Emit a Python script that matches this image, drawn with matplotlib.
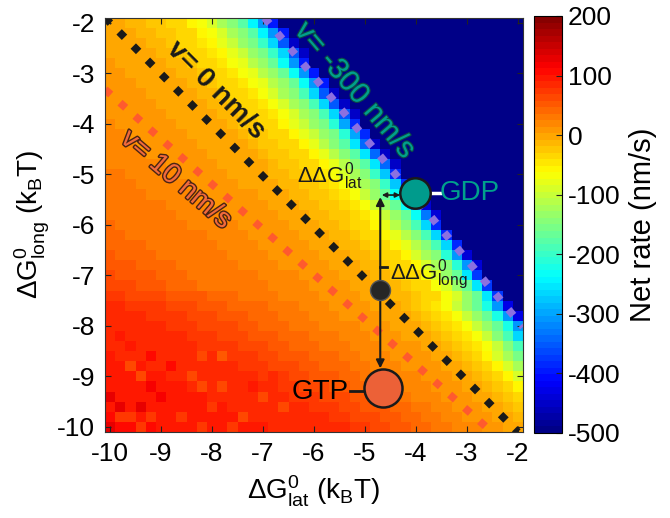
import numpy as np
import matplotlib
matplotlib.use("Agg")
import matplotlib.pyplot as plt
from matplotlib.colors import ListedColormap
import matplotlib.patheffects as pe

plt.rcParams['font.family'] = ['Liberation Sans', 'DejaVu Sans']
plt.rcParams['mathtext.fontset'] = 'custom'
plt.rcParams['mathtext.rm'] = 'Liberation Sans'
plt.rcParams['mathtext.it'] = 'Liberation Sans:italic'
plt.rcParams['mathtext.bf'] = 'Liberation Sans:bold'
plt.rcParams['axes.unicode_minus'] = False

# ---------------- data ----------------
DG_LAT = np.linspace(-10, -2, 41)     # x grid (k_B T)
DG_LONG = np.linspace(-2, -10, 41)    # y grid, row 0 = -2 (top)
X_TICKS = [-10, -9, -8, -7, -6, -5, -4, -3, -2]
Y_TICKS = [-10, -9, -8, -7, -6, -5, -4, -3, -2]
CBAR_TICKS = [-500, -400, -300, -200, -100, 0, 100, 200]
RATE_MIN, RATE_MAX = -500, 200
SATURATED_TENS = -50   # cells not listed in a row are saturated (<= -500 nm/s)

# net rate in units of 10 nm/s, one string per row (dG_long = -2 ... -10)
RATE_TENS_ROWS = [
    "0 0 -1 -1 -2 -2 -3 -4 -6 -7 -9 -12 -14 -18 -24 -31 -40",
    "0 0 0 -1 -1 -2 -2 -3 -4 -6 -7 -9 -12 -14 -18 -24 -31 -40",
    "0 0 0 0 -1 -1 -2 -3 -3 -5 -6 -8 -10 -13 -16 -20 -27 -35 -45",
    "0 0 0 0 0 -1 -1 -2 -3 -3 -5 -6 -8 -10 -13 -16 -20 -27 -35 -45",
    "1 0 0 0 0 0 -1 -1 -2 -3 -4 -5 -7 -8 -11 -13 -17 -23 -31 -40",
    "1 1 0 0 0 0 0 -1 -1 -2 -3 -4 -5 -7 -8 -11 -13 -17 -23 -31 -40",
    "1 1 1 0 0 0 0 0 -1 -1 -2 -3 -4 -5 -7 -8 -11 -13 -17 -23 -31 -40",
    "1 1 1 1 0 0 0 0 0 -1 -1 -2 -3 -4 -5 -7 -9 -12 -15 -19 -26 -35 -45",
    "1 1 1 1 1 0 0 0 0 0 -1 -1 -2 -3 -4 -5 -7 -9 -12 -15 -19 -26 -35 -45",
    "1 1 1 1 1 1 0 0 0 0 0 -1 -1 -2 -3 -4 -5 -7 -9 -12 -15 -19 -26 -35 -45",
    "2 1 1 1 1 1 1 0 0 0 0 0 -1 -2 -2 -3 -4 -6 -8 -10 -13 -16 -21 -30 -39",
    "2 2 1 1 1 1 1 1 0 0 0 0 0 -1 -2 -2 -3 -4 -6 -8 -10 -13 -16 -21 -30 -39",
    "2 2 2 1 1 1 1 1 1 0 0 0 0 0 -1 -2 -2 -3 -4 -6 -8 -11 -14 -18 -25 -34 -45",
    "2 2 2 2 1 1 1 1 1 1 0 0 0 0 0 -1 -2 -2 -3 -4 -6 -8 -11 -14 -18 -25 -34 -45",
    "2 2 2 2 2 2 1 1 1 1 1 0 0 0 0 0 -1 -2 -2 -3 -4 -6 -8 -11 -14 -18 -25 -34 -45",
    "3 3 2 2 2 2 2 1 1 1 1 1 0 0 0 0 -1 -1 -2 -2 -3 -5 -7 -9 -12 -15 -20 -28 -39",
    "3 3 3 2 2 2 2 2 1 1 1 1 1 0 0 0 0 -1 -1 -2 -2 -3 -5 -7 -9 -12 -15 -20 -28 -39",
    "3 3 3 3 2 2 2 2 2 1 1 1 1 1 1 0 0 0 -1 -1 -2 -2 -4 -5 -7 -10 -13 -17 -23 -33 -44",
    "3 3 3 3 3 3 2 2 2 2 1 1 1 1 1 1 0 0 0 -1 -1 -2 -2 -4 -5 -7 -10 -13 -17 -23 -33 -44",
    "3 3 3 3 3 3 3 2 2 2 2 2 1 1 1 1 1 0 0 0 -1 -1 -2 -2 -4 -5 -7 -10 -13 -17 -23 -33 -44",
    "4 3 3 3 3 3 3 3 2 2 2 2 2 1 1 1 1 1 0 0 0 -1 -1 -2 -3 -4 -6 -8 -11 -14 -19 -27 -38",
    "4 4 3 3 3 3 3 3 3 3 2 2 2 2 1 1 1 1 1 0 0 0 -1 -1 -2 -3 -4 -6 -8 -11 -14 -19 -27 -38",
    "4 4 4 4 3 3 3 3 3 3 3 2 2 2 2 1 1 1 1 1 0 0 0 -1 -1 -2 -3 -4 -6 -8 -11 -14 -19 -27 -38",
    "5 4 4 4 4 3 3 3 3 3 3 3 2 2 2 2 1 1 1 1 1 0 0 0 -1 -1 -2 -3 -4 -6 -9 -12 -15 -21 -31 -44",
    "5 5 5 4 4 4 4 3 3 3 3 3 3 2 2 2 2 1 1 1 1 1 0 0 0 -1 -1 -2 -3 -4 -6 -9 -12 -15 -21 -31 -44",
    "6 5 5 5 5 4 4 4 3 3 3 3 3 3 3 2 2 2 2 1 1 1 1 0 0 0 -1 -1 -2 -3 -4 -7 -9 -13 -17 -25 -37",
    "6 6 6 5 5 5 4 4 4 3 3 3 3 3 3 3 2 2 2 2 1 1 1 1 0 0 0 -1 -1 -2 -3 -4 -7 -9 -13 -17 -25 -37",
    "7 7 6 6 6 6 5 5 5 5 4 4 4 3 3 3 3 2 2 2 2 1 1 1 1 0 0 0 -1 -1 -2 -3 -4 -7 -9 -13 -17 -25 -37",
    "8 8 7 7 7 7 6 6 6 5 5 5 4 4 4 4 3 3 3 2 2 2 1 1 1 1 0 0 0 -1 -2 -3 -5 -7 -10 -13 -17 -22 -31 -43",
    "8 8 8 8 7 7 7 7 6 6 6 5 5 5 4 4 4 3 3 3 2 2 2 1 1 1 1 0 0 0 -1 -2 -3 -5 -7 -10 -13 -17 -22 -31 -43",
    "9 9 8 8 8 8 7 7 7 6 6 6 6 5 5 4 4 4 3 3 3 2 2 2 2 1 1 1 0 0 0 -1 -2 -3 -5 -7 -10 -13 -17 -22 -31",
    "9 10 9 9 8 8 8 8 7 7 7 6 6 6 5 5 5 4 4 4 3 3 3 2 2 2 1 1 1 0 0 0 -1 -2 -3 -5 -7 -10 -14 -19 -26",
    "9 9 10 9 9 9 8 8 8 7 7 7 7 6 6 6 5 5 4 4 4 3 3 3 2 2 2 1 1 1 1 0 0 -1 -2 -3 -5 -7 -10 -14 -19",
    "10 9 9 9 11 9 9 9 8 6 8 5 7 7 7 6 6 5 5 5 4 4 4 3 3 2 2 2 1 1 1 1 0 0 -1 -2 -4 -6 -9 -12 -16",
    "10 10 6 10 9 9 11 9 9 8 8 8 8 7 7 7 6 6 6 5 5 4 4 4 3 3 2 2 2 1 1 1 1 0 0 -1 -2 -4 -6 -9 -12",
    "10 10 10 6 10 10 9 9 6 9 9 8 8 8 8 7 9 7 6 6 5 5 5 4 4 3 3 3 2 2 2 1 1 1 0 0 -1 -2 -4 -6 -9",
    "10 10 10 10 12 10 10 10 9 6 9 6 9 8 10 8 8 7 7 6 6 6 5 5 4 4 4 3 3 2 2 2 1 1 1 0 0 -1 -2 -4 -6",
    "13 10 10 10 10 12 10 10 10 10 9 9 9 9 9 6 8 8 7 7 7 6 6 6 5 5 4 4 3 3 2 2 2 1 1 1 0 0 -1 -2 -4",
    "10 13 10 13 10 10 10 10 10 10 7 10 9 9 9 9 9 6 8 8 7 7 7 6 6 5 5 5 4 4 3 3 2 2 1 1 1 0 0 -1 -2",
    "11 7 7 10 7 10 10 7 10 10 10 10 10 6 9 9 9 9 9 8 8 8 7 7 6 6 6 5 5 4 4 3 3 2 2 1 1 1 0 0 -1",
    "13 11 11 7 11 10 10 10 10 7 10 10 7 10 10 10 9 9 9 9 9 8 8 8 7 7 6 6 5 5 4 4 3 3 2 2 2 1 1 0 0",
]

# iso-rate guide lines (end points, k_B T)
V0_LAT, V0_LONG = [-10.1, -2.0], [-1.9, -10.1]
V10_LAT, V10_LONG = [-10.1, -2.51], [-3.32, -10.1]
VM300_LAT, VM300_LONG = [-6.97, -1.9], [-1.9, -8.02]

# nucleotide states
GDP_STATE = (-4.02, -5.37)
GTP_STATE = (-4.65, -9.23)
MID_STATE = (-4.70, -7.29)

# ---------------- build grid ----------------
n = len(DG_LAT)
rate = np.full((len(DG_LONG), n), SATURATED_TENS * 10.0)
for j, row in enumerate(RATE_TENS_ROWS):
    vals = [int(v) for v in row.split()]
    assert len(vals) <= n, (j, len(vals))
    rate[j, :len(vals)] = np.array(vals) * 10.0

# MATLAB-like 64 level jet
xs = (np.arange(64) + 0.5) / 64
jet64 = np.stack([np.clip(1.5 - np.abs(4 * xs - 3), 0, 1),
                  np.clip(1.5 - np.abs(4 * xs - 2), 0, 1),
                  np.clip(1.5 - np.abs(4 * xs - 1), 0, 1)], axis=1)
cmap = ListedColormap(jet64)

W, H = 670, 518
fig = plt.figure(figsize=(W / 100, H / 100), dpi=100)
ax = fig.add_axes([105 / W, 1 - 432 / H, 418 / W, (432 - 17.7) / H])

mesh = ax.pcolormesh(DG_LAT, DG_LONG, rate, shading='nearest', cmap=cmap,
                     vmin=RATE_MIN, vmax=RATE_MAX, rasterized=True)
ax.set_xlim(-10.1, -1.9)
ax.set_ylim(-10.1, -1.9)
ax.set_xticks(X_TICKS)
ax.set_yticks(Y_TICKS)
ax.tick_params(direction='in', length=4, width=0.8, top=True, right=True,
               labelsize=19, pad=7, colors='#222222', labelcolor='black')
for s in ax.spines.values():
    s.set_linewidth(0.8)
    s.set_color('#333333')

ax.set_xlabel('ΔG$^{0}_{\\rm lat}$ (k$_{\\rm B}$T)', fontsize=20, labelpad=6)
ax.set_ylabel('ΔG$^{0}_{\\rm long}$ (k$_{\\rm B}$T)', fontsize=20, labelpad=4)

# guide lines (thick dotted -> diamonds)
dot_style = dict(linestyle=(0, (1, 1.62)), linewidth=5.5, dash_capstyle='butt')
ax.plot(V10_LAT, V10_LONG, color='#FF5A2E', **dot_style)
ax.plot(VM300_LAT, VM300_LONG, color='#8C70E0', **dot_style)
ax.plot(V0_LAT, V0_LONG, color='#1a1a1a', **dot_style)

ax.text(-7.92, -3.33, 'v= 0 nm/s', rotation=-45, rotation_mode='anchor',
        ha='center', va='center', fontsize=20, fontweight='bold', color='#1a1a1a')
ax.text(-5.20, -3.33, 'v= -300 nm/s', rotation=-49.5, rotation_mode='anchor',
        ha='center', va='center', fontsize=21, color='#00A08C',
        path_effects=[pe.withStroke(linewidth=1.6, foreground='#0b4a48')])
ax.text(-8.71, -5.11, 'v= 10 nm/s', rotation=-40.5, rotation_mode='anchor',
        ha='center', va='center', fontsize=20, color='#F26A3C',
        path_effects=[pe.withStroke(linewidth=2.0, foreground='#4a2414')])

# arrows
arrow_x = MID_STATE[0]
ax.annotate('', xy=(arrow_x, -5.45), xytext=(arrow_x, -8.84),
            arrowprops=dict(arrowstyle='<|-|>', lw=1.5, color='#1a1a1a',
                            mutation_scale=12, shrinkA=0, shrinkB=0))
ax.annotate('', xy=(-4.31, -5.41), xytext=(-4.67, -5.41),
            arrowprops=dict(arrowstyle='<|-|>', lw=1.2, color='#1a1a1a',
                            mutation_scale=7, shrinkA=0, shrinkB=0))
# connector ticks
ax.plot([arrow_x, -4.57], [-6.84, -6.84], color='#1a1a1a', lw=2)
ax.plot([-5.29, -5.02], [-9.28, -9.28], color='#1a1a1a', lw=2)
ax.plot([-3.74, -3.52], [-5.37, -5.37], color='white', lw=2.5)

# states
ax.scatter([MID_STATE[0]], [MID_STATE[1]], s=207, color='#262626',
           edgecolor='#555555', linewidth=1.0, zorder=5)
ax.scatter([GDP_STATE[0]], [GDP_STATE[1]], s=480, color='#009B8C',
           edgecolor='#1a1a1a', linewidth=1.8, zorder=5)
ax.scatter([GTP_STATE[0]], [GTP_STATE[1]], s=750, color='#EC6137',
           edgecolor='#1a1a1a', linewidth=1.8, zorder=5)

ax.text(-3.53, -5.37, 'GDP', ha='left', va='center', fontsize=20, color='#00A08C')
ax.text(-5.31, -9.30, 'GTP', ha='right', va='center', fontsize=20, color='black')
ax.text(-6.33, -5.17, 'ΔΔG$^{0}_{\\rm lat}$', ha='left', va='baseline',
        fontsize=16, color='#1a1a1a')
ax.text(-4.51, -7.08, 'ΔΔG$^{0}_{\\rm long}$', ha='left', va='baseline',
        fontsize=16, color='#1a1a1a')

# colorbar
cax = fig.add_axes([534 / W, 1 - 433 / H, 28 / W, (433 - 16) / H])
cb = fig.colorbar(mesh, cax=cax, ticks=CBAR_TICKS)
cb.ax.tick_params(direction='in', length=4, width=0.8, labelsize=19, pad=4,
                  colors='#222222', labelcolor='black')
cb.outline.set_linewidth(0.8)
cb.set_label('Net rate (nm/s)', fontsize=21, labelpad=6)

fig.savefig('out.png', dpi=100)
